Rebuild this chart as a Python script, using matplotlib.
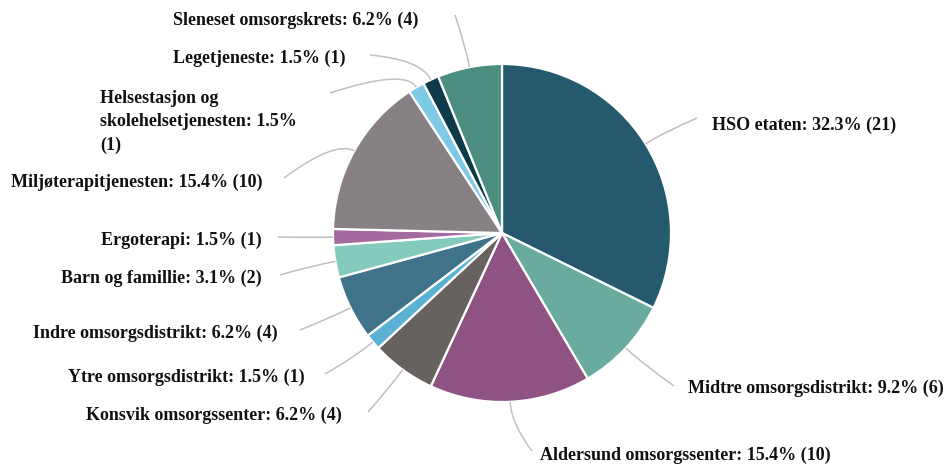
import matplotlib
matplotlib.use("Agg")
import matplotlib.pyplot as plt
import numpy as np
from matplotlib.path import Path
from matplotlib.patches import PathPatch

labels = ["HSO etaten", "Midtre omsorgsdistrikt", "Aldersund omsorgssenter",
          "Konsvik omsorgssenter", "Ytre omsorgsdistrikt", "Indre omsorgsdistrikt",
          "Barn og famillie", "Ergoterapi", "Miljøterapitjenesten",
          "Helsestasjon og\nskolehelsetjenesten", "Legetjeneste", "Sleneset omsorgskrets"]
counts = [21, 6, 10, 4, 1, 4, 2, 1, 10, 1, 1, 4]
colors = ["#25596d", "#6aab9f", "#8e5383", "#67625f", "#5bb1d4", "#3e7389",
          "#84cbbd", "#a46a9f", "#878186", "#7ec9e6", "#0f3a4a", "#4b8e7f"]

W, H = 946, 466
fig = plt.figure(figsize=(W / 100, H / 100), dpi=100)
ax = fig.add_axes([0, 0, 1, 1])

cx, cy, R = 502, H - 233, 169
ax.pie(counts, colors=colors, startangle=90, counterclock=False,
       center=(cx, cy), radius=R, frame=True,
       wedgeprops=dict(edgecolor="white", linewidth=1.6))
ax.set_xlim(0, W)
ax.set_ylim(0, H)
ax.set_aspect("equal")
ax.axis("off")

total = sum(counts)

# label layout (pixel coords, y from top): text anchor x, y, ha, line end x, y
layout = [
    (712, 125, "left", 697, 118),
    (688, 388, "left", 674, 386),
    (540, 455, "left", 532, 451),
    (342, 415, "right", 368, 412),
    (305, 377, "right", 325, 374),
    (278, 333, "right", 300, 330),
    (262, 278, "right", 280, 275),
    (262, 240, "right", 278, 237),
    (262, 182, "right", 284, 178),
    (100, 122, "left", 330, 93),
    (345, 58, "right", 370, 55),
    (418, 20, "right", 455, 15),
]

font = dict(family="Liberation Serif", fontweight="bold", fontsize=13.0, color="#111111")

cum = 0
for lab, v, (tx, ty, ha, ex, ey) in zip(labels, counts, layout):
    mid = cum + v / 2
    cum += v
    th = np.deg2rad(90 - 360 * mid / total)
    sx, sy = cx + R * np.cos(th), cy + R * np.sin(th)
    d = 22
    c1x, c1y = cx + (R + d) * np.cos(th), cy + (R + d) * np.sin(th)
    ey2 = H - ey
    path = Path([(sx, sy), (c1x, c1y), (ex, ey2)], [Path.MOVETO, Path.CURVE3, Path.CURVE3])
    ax.add_patch(PathPatch(path, fill=False, edgecolor="#c0c0c0", linewidth=1.1))
    pct = 100 * v / total
    if "\n" in lab:
        txt = "Helsestasjon og\nskolehelsetjenesten: %.1f%%\n(%d)" % (pct, v)
        ax.text(tx, H - ty, txt, ha="left", va="center", linespacing=1.45, **font)
    else:
        txt = "%s: %.1f%% (%d)" % (lab, pct, v)
        ax.text(tx, H - ty, txt, ha=ha, va="center", **font)

fig.savefig("out.png", dpi=100, facecolor="white")
